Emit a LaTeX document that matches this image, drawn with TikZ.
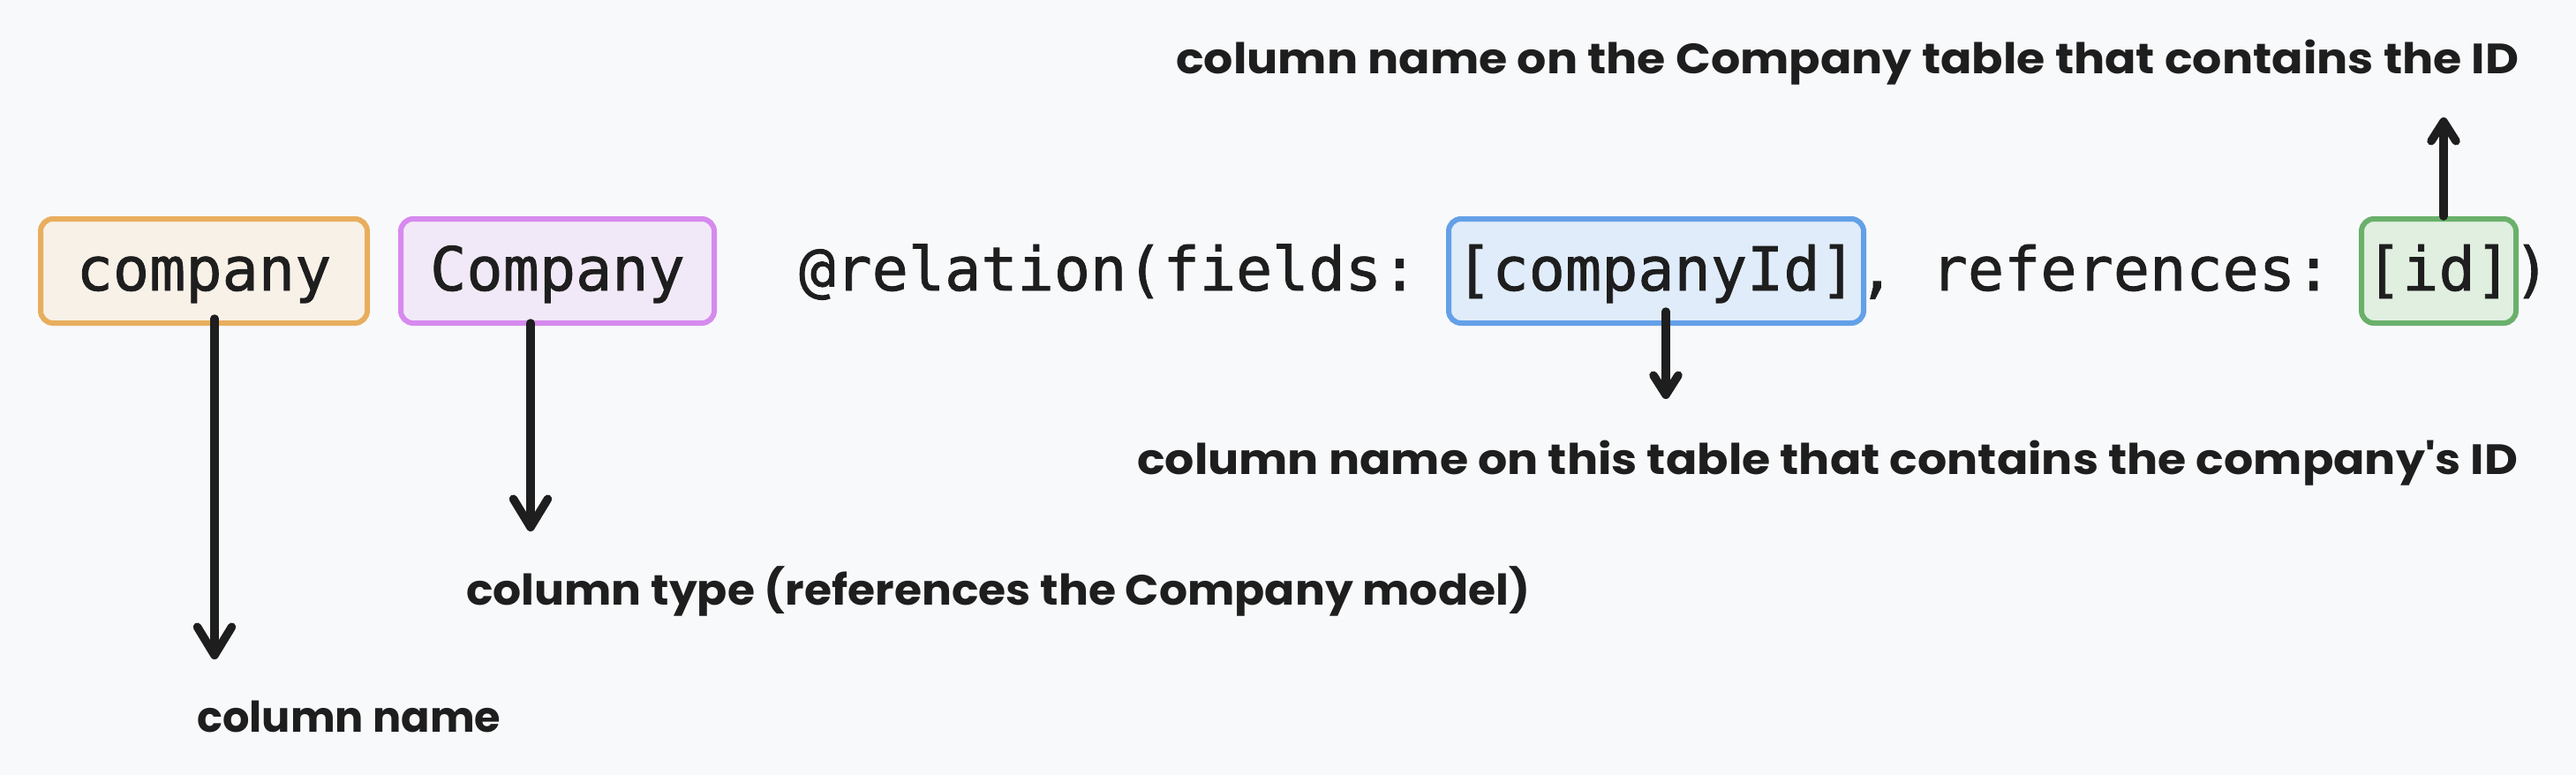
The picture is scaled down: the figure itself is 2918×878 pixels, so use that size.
\documentclass[tikz,border=0pt]{standalone}
\usepackage{fontspec}
\usepackage{graphicx}
\usetikzlibrary{arrows.meta}
\newfontfamily\codefont[FakeBold=1.2]{DejaVu Sans Mono}
\newfontfamily\handfont{Poppins}
\definecolor{bg}{HTML}{F8F9FB}
\definecolor{ink}{HTML}{1E1E1E}
\definecolor{orangeB}{HTML}{E8AE5E}
\definecolor{orangeF}{HTML}{F8F1E7}
\definecolor{purpleB}{HTML}{D68AEE}
\definecolor{purpleF}{HTML}{F2E9F8}
\definecolor{blueB}{HTML}{64A0E8}
\definecolor{blueF}{HTML}{E0ECFA}
\definecolor{greenB}{HTML}{6AB06B}
\definecolor{greenF}{HTML}{E0EFE0}
\begin{document}
\begin{tikzpicture}[x=1pt,y=-1pt,
  code/.style={font=\codefont\fontsize{68.5pt}{80pt}\selectfont, text=ink, inner sep=0pt},
  tok/.style={code, rounded corners=14pt, line width=6pt, text height=81pt, text depth=37pt, anchor=base},
  lbl/.style={font=\handfont\bfseries\fontsize{48pt}{56pt}\selectfont, text=ink, inner sep=0pt, anchor=base west},
  arr/.style={line width=9.5pt, draw=ink, line cap=round, line join=round},
  big/.style={arr, -{Straight Barb[length=32pt,width=39pt,round]}},
  small/.style={arr, -{Straight Barb[length=22pt,width=28pt,round]}}]
\fill[bg] (0,0) rectangle (2918,878);
\useasboundingbox (0,0) rectangle (2918,878);
% code line
\node[tok, draw=orangeB, fill=orangeF, minimum width=370pt] (c1) at (231,329) {company};
\node[tok, draw=purpleB, fill=purpleF, minimum width=355pt] (c2) at (631.5,329) {Company};
\node[code, anchor=base west] (rel) at (905,329) {@relation(fields:};
\node[tok, draw=blueB, fill=blueF, minimum width=470pt] (c3) at (1876,329) {[companyId]};
\node[code, anchor=base west] (refs) at (2105,329) {, references:};
\node[tok, draw=greenB, fill=greenF, minimum width=175pt] (c4) at (2762.5,329) {[id]};
\node[code, anchor=base west] (close) at (2847,329) {)};
% labels
\node[lbl] (l1) at (1332,83) {\resizebox{1521pt}{\height}{column name on the Company table that contains the ID}};
\node[lbl] (l2) at (1288,537) {\resizebox{1564pt}{\height}{column name on this table that contains the company's ID}};
\node[lbl] (l3) at (528,685) {\resizebox{1205pt}{\height}{column type (references the Company model)}};
\node[lbl] (l4) at (223,829) {\resizebox{344pt}{\height}{column name}};
% arrows
\coordinate (t1) at (243,747);
\coordinate (t2) at (601,602);
\coordinate (t3) at (1887,452);
\coordinate (t4) at (2768,133);
\draw[big] ([xshift=12pt,yshift=8pt]c1.south) -- (t1);
\draw[big] ([xshift=-30.5pt,yshift=3pt]c2.south) -- (t2);
\draw[small] ([xshift=11pt,yshift=16pt]c3.south) -- (t3);
\draw[small] ([xshift=5.5pt,yshift=0pt]c4.north) -- (t4);
\end{tikzpicture}
\end{document}
